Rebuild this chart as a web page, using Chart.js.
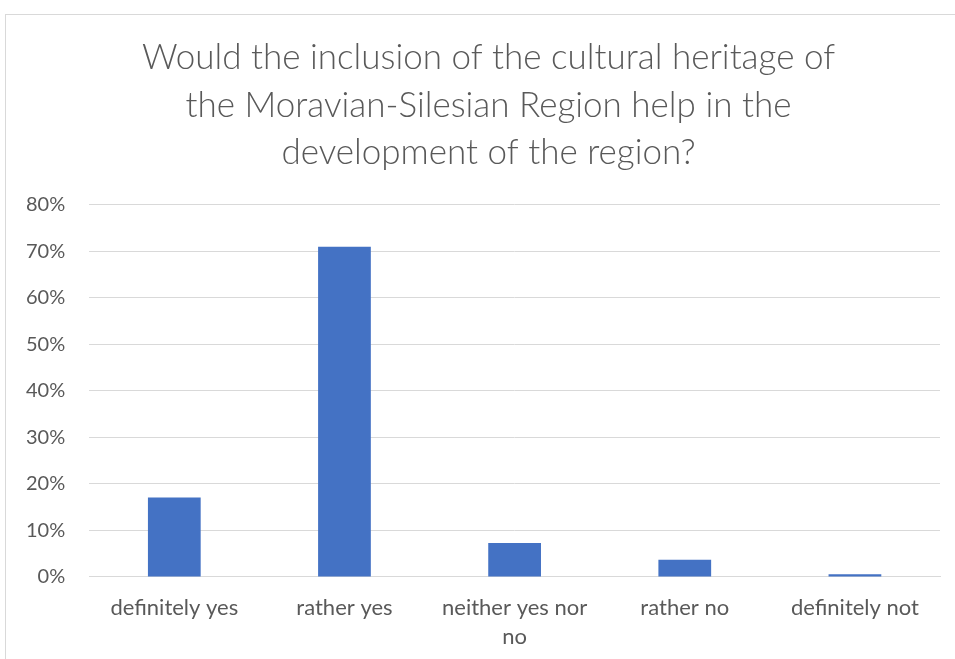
<!DOCTYPE html>
<html>
<head>
<meta charset="utf-8">
<script src="https://cdn.jsdelivr.net/npm/chart.js@4"></script>
<style>
html,body{margin:0;padding:0;background:#fff;overflow:hidden;}
#box{position:absolute;left:5px;top:14px;width:968px;height:660px;border:1px solid #d9d9d9;box-sizing:border-box;}
canvas{display:block;}
</style>
</head>
<body>
<div id="box"><canvas id="c" width="966" height="658"></canvas></div>
<script>
const categories = ["definitely yes", "rather yes", ["neither yes nor", "no"], "rather no", "definitely not"];
const values = [17.1, 71.0, 7.3, 3.7, 0.6];
const yTicks = [0, 10, 20, 30, 40, 50, 60, 70, 80];
const titleLines = ["Would the inclusion of the cultural heritage of", "the Moravian-Silesian Region help in the", "development of the region?"];

const FONT = "Lato, 'Open Sans', sans-serif";
const unclipY = {
  id: 'unclipY',
  afterLayout(chart) { chart.scales.y.left = 0; }
};
new Chart(document.getElementById('c'), {
  type: 'bar',
  data: {
    labels: categories,
    datasets: [{
      data: values,
      backgroundColor: '#4472c4',
      borderWidth: 0,
      barPercentage: 0.31,
      categoryPercentage: 1.0
    }]
  },
  plugins: [unclipY],
  options: {
    responsive: false,
    animation: false,
    layout: { padding: { left: 31, right: 32, top: 0, bottom: 6 } },
    plugins: {
      legend: { display: false },
      tooltip: { enabled: false },
      title: {
        display: true,
        text: titleLines,
        color: '#595959',
        font: { family: FONT, size: 35, weight: 300, lineHeight: 1.36 },
        padding: { top: 19, bottom: 28 }
      }
    },
    scales: {
      x: {
        grid: { display: false, drawTicks: false },
        border: { color: '#d9d9d9', width: 1 },
        ticks: { color: '#595959', font: { family: FONT, size: 22, lineHeight: 1.32 }, padding: 16, maxRotation: 0, autoSkip: false }
      },
      y: {
        min: 0, max: 80,
        afterBuildTicks: (axis) => { axis.ticks = yTicks.map(v => ({ value: v })); },
        afterFit: (axis) => { axis.width -= 35; },
        grid: { color: '#d9d9d9', drawTicks: false },
        border: { display: false },
        ticks: { color: '#595959', font: { family: FONT, size: 20 }, padding: 24, callback: v => v + '%' }
      }
    }
  }
});
</script>
</body>
</html>
